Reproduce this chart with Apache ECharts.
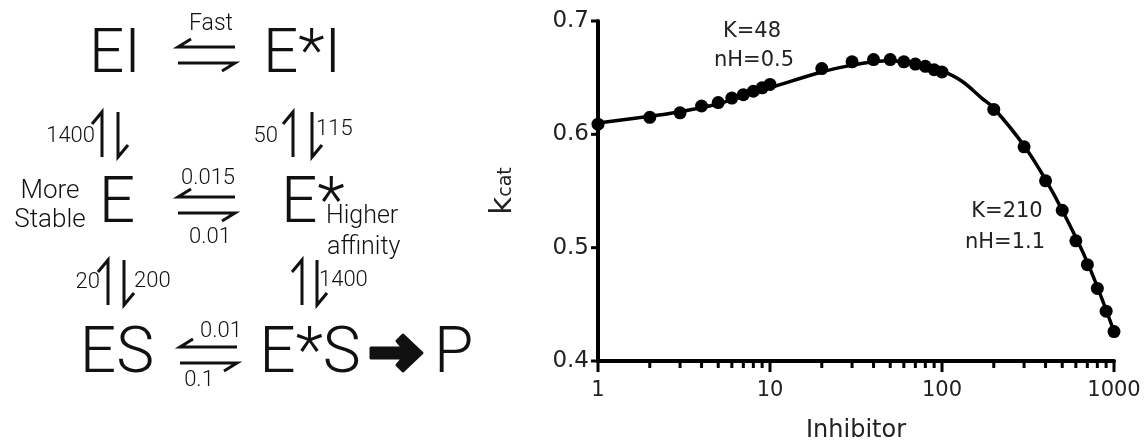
<!DOCTYPE html>
<html>
<head>
<meta charset="utf-8">
<script src="https://cdn.jsdelivr.net/npm/echarts@6/dist/echarts.min.js"></script>
<style>
html,body{margin:0;padding:0;background:#fff;}
#chart{width:1144px;height:448px;}
</style>
</head>
<body>
<div id="chart"></div>
<script>
// ---- data ----
const inhibitor = [1,2,3,4,5,6,7,8,9,10,20,30,40,50,60,70,80,90,100,200,300,400,500,600,700,800,900,1000];
const kcat = [0.609,0.615,0.619,0.625,0.628,0.632,0.635,0.638,0.641,0.644,0.658,0.664,0.666,0.666,0.664,0.662,0.660,0.657,0.655,0.622,0.589,0.559,0.533,0.506,0.485,0.464,0.444,0.426];
const fitX = [1,2,3,5,10,20,30,40,50,60,70,80,100,130,170,200,300,400,500,700,1000];
const fitY = [0.610,0.616,0.620,0.627,0.641,0.655,0.661,0.664,0.665,0.664,0.663,0.661,0.656,0.647,0.632,0.623,0.590,0.560,0.533,0.487,0.426];
const majorTicks = [1,10,100,1000];
const minorTicks = [2,3,4,5,6,7,8,9,20,30,40,50,60,70,80,90,200,300,400,500,600,700,800,900];
const yTicks = [0.4,0.5,0.6,0.7];
const X_MIN = 1, X_MAX = 1000, Y_MIN = 0.4, Y_MAX = 0.7, Y_STEP = 0.1;

// ---- scheme drawing helpers ----
const INK = '#111';
const SCHEME_FONT = 'Roboto';
function T(text, x, y, size, align, weight){
  return {type:'text', x:x, y:y, silent:true, style:{text:text, font:(weight||300)+' '+size+'px '+SCHEME_FONT, fill:INK, textAlign:align||'center', textVerticalAlign:'middle'}};
}
function PL(points, w){
  return {type:'polyline', silent:true, shape:{points:points}, style:{stroke:INK, lineWidth:w||3, fill:null, lineCap:'butt', lineJoin:'miter'}};
}
function hPair(x1,x2,yT,yB){
  return [PL([[x1+13,yT-8],[x1,yT],[x2,yT]]), PL([[x1,yB],[x2,yB],[x2-13,yB+8]])];
}
function vPair(xU,xD,y1,y2){
  return [PL([[xU-10,y1+12],[xU,y1],[xU,y2]]), PL([[xD,y1],[xD,y2],[xD+10,y2-12]])];
}
function annot(text, x, y){
  return {type:'text', x:x, y:y, silent:true, style:{text:text, font:'21px "DejaVu Sans"', fill:'#222', textAlign:'center', textVerticalAlign:'middle'}};
}

const scheme = [].concat(
  [T('EI',115,56,62), T('E*I',302,56,62), T('Fast',211,24,23)],
  hPair(178,235,47,63),
  [T('1400',95,136,22,'right'), T('50',278,136,22,'right'), T('115',316,129,22,'left')],
  vPair(102,118,112,157), vPair(293,312,112,157),
  [T('More',50,191,26), T('Stable',50,220,26), T('E',117,206,64), T('0.015',208,178,22), T('0.01',210,237,22),
   T('E*',281,206,64,'left'), T('Higher',326,217,25,'left'), T('affinity',327,248,25,'left')],
  hPair(178,235,197,213),
  [T('20',100,282,22,'right'), T('200',134,281,22,'left'), T('1400',319,280,22,'left')],
  vPair(108,124,260,305), vPair(302,317,260,305),
  [T('ES',117,356,64), T('0.01',221,331,22), T('0.1',199,380,22), T('E*S',310,356,64), T('P',434,356,64,'left')],
  hPair(180,237,347,363),
  [{type:'polygon', silent:true, shape:{points:[[371,348],[403,348],[397,341],[403,335],[422,353],[403,371],[397,365],[403,358],[371,358]]},
    style:{fill:INK, stroke:INK, lineWidth:3, lineJoin:'round'}}],
  [annot('K=48',752,32), annot('nH=0.5',754,61), annot('K=210',1007,212), annot('nH=1.1',1005,243)]
);

// tick marks drawn through the axes' own scales
function xTickSeries(values, len){
  return {
    type:'custom', xAxisIndex:0, yAxisIndex:0, clip:false, silent:true, z:1,
    data: values.map(function(v){return [v, Y_MIN];}),
    renderItem: function(params, api){
      var p = api.coord([api.value(0), api.value(1)]);
      return {type:'line', shape:{x1:p[0], y1:p[1], x2:p[0], y2:p[1]+len}, style:{stroke:'#000', lineWidth:3}};
    }
  };
}
function yTickSeries(values, len){
  return {
    type:'custom', xAxisIndex:0, yAxisIndex:0, clip:false, silent:true, z:1,
    data: values.map(function(v){return [X_MIN, v];}),
    renderItem: function(params, api){
      var p = api.coord([api.value(0), api.value(1)]);
      return {type:'line', shape:{x1:p[0]-len, y1:p[1], x2:p[0], y2:p[1]}, style:{stroke:'#000', lineWidth:3}};
    }
  };
}

const chart = echarts.init(document.getElementById('chart'), null, {renderer:'canvas'});
const axisFont = '"DejaVu Sans"';
chart.setOption({
  backgroundColor:'#fff',
  animation:false,
  grid:{left:598, right:30, top:21, bottom:85, containLabel:false},
  xAxis:{
    type:'log', logBase:10, min:X_MIN, max:X_MAX, position:'bottom',
    axisLine:{show:true, onZero:false, lineStyle:{color:'#000', width:4}},
    axisTick:{show:false},
    axisLabel:{fontSize:21, fontFamily:axisFont, color:'#222', margin:19, formatter:function(v){return String(Math.round(v));}},
    splitLine:{show:false}, minorTick:{show:false},
    name:'Inhibitor', nameLocation:'middle', nameGap:58,
    nameTextStyle:{fontSize:24, fontFamily:axisFont, color:'#222'}
  },
  yAxis:{
    type:'value', min:Y_MIN, max:Y_MAX, interval:Y_STEP,
    axisLine:{show:true, onZero:false, lineStyle:{color:'#000', width:4}},
    axisTick:{show:false},
    axisLabel:{formatter:function(v){return v.toFixed(1);}, fontSize:23, fontFamily:axisFont, color:'#222', margin:9},
    splitLine:{show:false},
    name:'{k|k}{s|cat}', nameLocation:'middle', nameGap:80, nameRotate:90,
    nameTextStyle:{rich:{k:{fontSize:31, fontFamily:axisFont, color:'#222'}, s:{fontSize:19, fontFamily:axisFont, color:'#222', padding:[8,0,0,0]}}}
  },
  series:[
    xTickSeries(majorTicks, 11),
    xTickSeries(minorTicks, 7),
    yTickSeries(yTicks, 7),
  {
    type:'line', data:fitX.map(function(x,i){return [x, fitY[i]];}),
    smooth:0.4, showSymbol:false, lineStyle:{color:'#000', width:3.5}, z:2, silent:true
  },{
    type:'scatter', data:inhibitor.map(function(x,i){return [x, kcat[i]];}),
    symbol:'circle', symbolSize:13, itemStyle:{color:'#000', opacity:1}, z:3, silent:true
  }],
  graphic:scheme
});
</script>
</body>
</html>
